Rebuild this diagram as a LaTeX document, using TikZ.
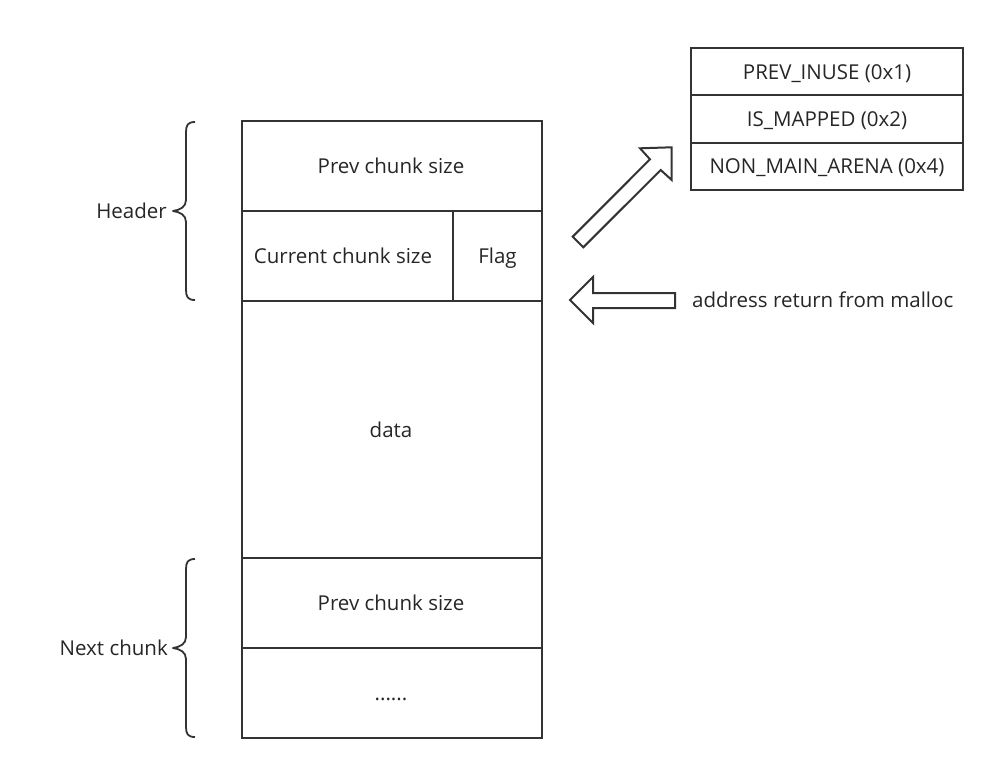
\documentclass[tikz,border=0pt]{standalone}
\usepackage{fontspec}
\setmainfont{Open Sans}
\definecolor{ink}{HTML}{333333}
\definecolor{txt}{HTML}{262626}
\begin{document}
\begin{tikzpicture}[x=1pt,y=-1pt,
  line/.style={draw=ink,line width=2pt},
  lbl/.style={text=txt,font=\fontsize{20.5}{24}\selectfont,inner sep=0pt,text height=14.8pt,text depth=0pt}]
\useasboundingbox (0,0) rectangle (995,770);
% main column
\draw[line] (242,121) rectangle (542,738);
\draw[line] (242,211) -- (542,211);
\draw[line] (242,301) -- (542,301);
\draw[line] (453,211) -- (453,301);
\draw[line] (242,558) -- (542,558);
\draw[line] (242,648) -- (542,648);
\node[lbl] (prev1) at (391,166) {Prev chunk size};
\node[lbl] (cur) at (343,256) {Current chunk size};
\node[lbl] (flag) at (497.5,256) {Flag};
\node[lbl] (data) at (391,430) {data};
\node[lbl] (prev2) at (391,603) {Prev chunk size};
\node[lbl] (dots) at (391,693) {......};
% flag table
\draw[line] (691,48) rectangle (963,190);
\draw[line] (691,95) -- (963,95);
\draw[line] (691,143) -- (963,143);
\node[lbl] (f1) at (827,72) {PREV\_INUSE (0x1)};
\node[lbl] (f2) at (827,119) {IS\_MAPPED (0x2)};
\node[lbl] (f3) at (827,166.5) {NON\_MAIN\_ARENA (0x4)};
% braces
\draw[line,line width=1.8pt,line join=round]
  (195,122) .. controls (188,122) and (186,125) .. (186,132)
  -- (186,200) .. controls (186,207) and (180,210) .. (173,211)
  .. controls (180,212) and (186,215) .. (186,222)
  -- (186,290) .. controls (186,297) and (188,300) .. (195,300);
\draw[line,line width=1.8pt,line join=round]
  (195,559) .. controls (188,559) and (186,562) .. (186,569)
  -- (186,637) .. controls (186,644) and (180,647) .. (173,648)
  .. controls (180,649) and (186,652) .. (186,659)
  -- (186,727) .. controls (186,734) and (188,737) .. (195,737);
\node[lbl,anchor=east] (hdr) at (167,211) {Header};
\node[lbl,anchor=east] (nxt) at (168,648) {Next chunk};
% arrows
\draw[line,fill=white,line join=miter]
  (570,300) -- (593,277) -- (593,293) -- (675,293) -- (675,308) -- (593,308) -- (593,323) -- cycle;
\draw[line,fill=white,line join=miter]
  (572.7,236.7) -- (650,159.3) -- (640,148.3) -- (671.7,147.3) -- (671.7,180) -- (660.7,170) -- (583.3,247.3) -- cycle;
\node[lbl,anchor=west] (addr) at (692,300) {address return from malloc};
\end{tikzpicture}
\end{document}
